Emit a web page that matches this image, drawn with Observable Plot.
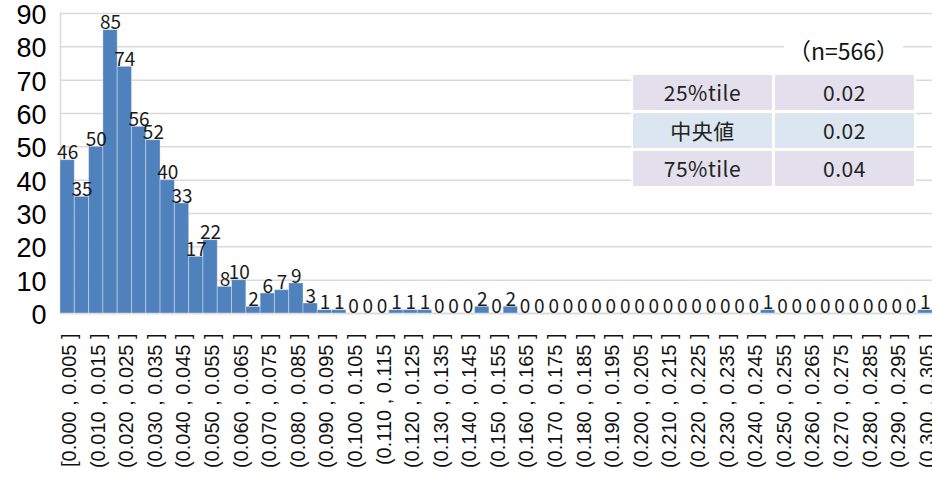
<!DOCTYPE html>
<html>
<head>
<meta charset="utf-8">
<script src="https://cdn.jsdelivr.net/npm/d3@7"></script>
<script src="https://cdn.jsdelivr.net/npm/@observablehq/plot@0.6"></script>
<style>
  html, body { margin: 0; padding: 0; background: #fff; }
  #wrap { position: relative; width: 932px; height: 480px; overflow: hidden; }
  #wrap svg { position: absolute; left: 0; top: 0; }
  .nlab { position: absolute; left: 784px; top: 35px; background: #fff; font-family: "Noto Sans CJK JP", sans-serif; font-size: 23px; line-height: 30px; color: #111; padding: 0 4px; }
  .tbl { position: absolute; left: 631px; top: 73px; background: #fff; padding: 2px; }
  .row { display: flex; margin-bottom: 3px; }
  .row:last-child { margin-bottom: 0; }
  .cell { height: 35px; line-height: 35px; text-align: center; font-family: "Noto Sans CJK JP", sans-serif; font-size: 21px; letter-spacing: 0.5px; color: #222; }
  .c1 { width: 139px; margin-right: 3px; }
  .c2 { width: 139px; }
</style>
</head>
<body>
<div id="wrap"></div>
<script>
const bins = [
  "[0.000 , 0.005 ]", "(0.005 , 0.010 ]", "(0.010 , 0.015 ]", "(0.015 , 0.020 ]",
  "(0.020 , 0.025 ]", "(0.025 , 0.030 ]", "(0.030 , 0.035 ]", "(0.035 , 0.040 ]",
  "(0.040 , 0.045 ]", "(0.045 , 0.050 ]", "(0.050 , 0.055 ]", "(0.055 , 0.060 ]",
  "(0.060 , 0.065 ]", "(0.065 , 0.070 ]", "(0.070 , 0.075 ]", "(0.075 , 0.080 ]",
  "(0.080 , 0.085 ]", "(0.085 , 0.090 ]", "(0.090 , 0.095 ]", "(0.095 , 0.100 ]",
  "(0.100 , 0.105 ]", "(0.105 , 0.110 ]", "(0.110 , 0.115 ]", "(0.115 , 0.120 ]",
  "(0.120 , 0.125 ]", "(0.125 , 0.130 ]", "(0.130 , 0.135 ]", "(0.135 , 0.140 ]",
  "(0.140 , 0.145 ]", "(0.145 , 0.150 ]", "(0.150 , 0.155 ]", "(0.155 , 0.160 ]",
  "(0.160 , 0.165 ]", "(0.165 , 0.170 ]", "(0.170 , 0.175 ]", "(0.175 , 0.180 ]",
  "(0.180 , 0.185 ]", "(0.185 , 0.190 ]", "(0.190 , 0.195 ]", "(0.195 , 0.200 ]",
  "(0.200 , 0.205 ]", "(0.205 , 0.210 ]", "(0.210 , 0.215 ]", "(0.215 , 0.220 ]",
  "(0.220 , 0.225 ]", "(0.225 , 0.230 ]", "(0.230 , 0.235 ]", "(0.235 , 0.240 ]",
  "(0.240 , 0.245 ]", "(0.245 , 0.250 ]", "(0.250 , 0.255 ]", "(0.255 , 0.260 ]",
  "(0.260 , 0.265 ]", "(0.265 , 0.270 ]", "(0.270 , 0.275 ]", "(0.275 , 0.280 ]",
  "(0.280 , 0.285 ]", "(0.285 , 0.290 ]", "(0.290 , 0.295 ]", "(0.295 , 0.300 ]",
  "(0.300 , 0.305 ]"
];
const counts = [
  46, 35, 50, 85, 74, 56, 52, 40, 33, 17,
  22, 8, 10, 2, 6, 7, 9, 3, 1, 1,
  0, 0, 0, 1, 1, 1, 0, 0, 0, 2,
  0, 2, 0, 0, 0, 0, 0, 0, 0, 0,
  0, 0, 0, 0, 0, 0, 0, 0, 0, 1,
  0, 0, 0, 0, 0, 0, 0, 0, 0, 0,
  1
];
const xTickLabels = bins.filter((d, i) => i % 2 === 0);
const yTicks = [0, 10, 20, 30, 40, 50, 60, 70, 80, 90];
const nLabel = "（n=566）";
const statNames = ["25%tile", "中央値", "75%tile"];
const statValues = ["0.02", "0.02", "0.04"];
const statColors = ["#E4DFEC", "#DCE6F1", "#E4DFEC"];

const data = bins.map((b, i) => ({bin: b, count: counts[i]}));

const chart = Plot.plot({
  width: 932,
  height: 480,
  marginLeft: 60,
  marginRight: 0,
  marginTop: 13,
  marginBottom: 167,
  style: {background: "transparent"},
  x: {type: "band", domain: bins, padding: 0, round: false, label: null},
  y: {domain: [0, 90], label: null},
  marks: [
    Plot.gridY(yTicks, {stroke: "#d9d9d9", strokeOpacity: 1, strokeWidth: 1.5}),
    Plot.frame({anchor: "left", stroke: "#d9d9d9", strokeWidth: 1.5}),
    Plot.ruleY([0], {stroke: "#d9d9d9", strokeWidth: 1.5}),
    Plot.barY(data, {x: "bin", y: "count", fill: "#4F81BD", stroke: "#ffffff", strokeOpacity: 0.35, strokeWidth: 1}),
    Plot.text(data, {x: "bin", y: "count", text: d => String(d.count), lineAnchor: "bottom", dy: -1,
      fontSize: 19, fill: "#1a1a1a", fontFamily: "Noto Sans CJK JP, sans-serif"}),
    Plot.axisY(yTicks, {tickSize: 0, tickPadding: 14, fontSize: 27, fill: "#000", dy: 2, label: null,
      fontFamily: "Liberation Sans, Arial, sans-serif"}),
    Plot.axisX(xTickLabels, {tickSize: 0, tickRotate: -90, tickPadding: 20, fontSize: 20, fill: "#111", label: null,
      fontFamily: "Liberation Sans, Arial, sans-serif", dx: 2})
  ]
});

const wrap = document.getElementById("wrap");
wrap.appendChild(chart);

const nl = document.createElement("div");
nl.className = "nlab";
nl.textContent = nLabel;
wrap.appendChild(nl);

const tbl = document.createElement("div");
tbl.className = "tbl";
statNames.forEach((name, i) => {
  const row = document.createElement("div");
  row.className = "row";
  const a = document.createElement("div");
  a.className = "cell c1";
  a.style.background = statColors[i];
  a.textContent = name;
  const b = document.createElement("div");
  b.className = "cell c2";
  b.style.background = statColors[i];
  b.textContent = statValues[i];
  row.appendChild(a);
  row.appendChild(b);
  tbl.appendChild(row);
});
wrap.appendChild(tbl);
</script>
</body>
</html>
